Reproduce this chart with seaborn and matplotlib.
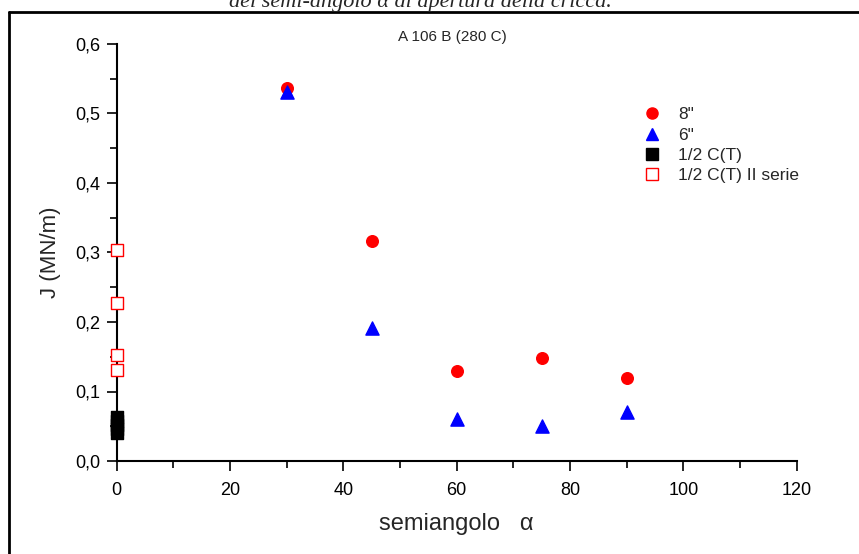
import numpy as np
import pandas as pd
import seaborn as sns
import matplotlib
matplotlib.use("Agg")
import matplotlib.pyplot as plt
from matplotlib.lines import Line2D
from matplotlib.ticker import MultipleLocator, FuncFormatter

# ---- data ----
angle_8 = [30, 45, 60, 75, 90]
J_8 = [0.537, 0.316, 0.130, 0.148, 0.119]
angle_6 = [30, 45, 60, 75, 90]
J_6 = [0.531, 0.191, 0.060, 0.051, 0.071]
angle_ct = [0, 0, 0, 0, 0]
J_ct = [0.040, 0.046, 0.052, 0.058, 0.063]
angle_ct2 = [0, 0, 0, 0]
J_ct2 = [0.304, 0.228, 0.153, 0.131]
series_names = ['8"', '6"', '1/2 C(T)', '1/2 C(T) II serie']

df = pd.concat([
    pd.DataFrame({"x": angle_8, "J": J_8, "s": series_names[0]}),
    pd.DataFrame({"x": angle_6, "J": J_6, "s": series_names[1]}),
    pd.DataFrame({"x": angle_ct, "J": J_ct, "s": series_names[2]}),
    pd.DataFrame({"x": angle_ct2, "J": J_ct2, "s": series_names[3]}),
], ignore_index=True)

sns.set_theme(style="white")
plt.rcParams['font.family'] = ['Liberation Sans', 'DejaVu Sans']

fig = plt.figure(figsize=(8.59, 5.54), dpi=100)
ax = fig.add_axes([116.7/859, 1-461/554, (796.7-116.7)/859, (461-44)/554])

styles = {
    series_names[0]: dict(marker='o', color='#ff0000', edgecolor='#ff0000', s=70),
    series_names[1]: dict(marker='^', color='#0000ff', edgecolor='#0000ff', s=90),
    series_names[2]: dict(marker='s', color='black', edgecolor='black', s=70),
    series_names[3]: dict(marker='s', color='white', edgecolor='#ff0000', s=70),
}
for name in series_names:
    sub = df[df["s"] == name]
    st = styles[name]
    sns.scatterplot(data=sub, x="x", y="J", ax=ax, marker=st['marker'],
                    color=st['color'], edgecolor=st['edgecolor'], s=st['s'],
                    linewidth=1.0, zorder=3, clip_on=False, legend=False)

ax.set_xlim(0, 120)
ax.set_ylim(0, 0.6)
ax.xaxis.set_major_locator(MultipleLocator(20))
ax.xaxis.set_minor_locator(MultipleLocator(10))
ax.yaxis.set_major_locator(MultipleLocator(0.1))
ax.yaxis.set_minor_locator(MultipleLocator(0.05))
ax.yaxis.set_major_formatter(FuncFormatter(lambda v, p: f"{v:.1f}".replace('.', ',')))
ax.tick_params(axis='both', which='major', direction='out', length=7, width=1.2,
               labelsize=13, color='black', labelcolor='black', bottom=True, left=True)
ax.tick_params(axis='x', which='major', pad=8)
ax.tick_params(axis='y', which='major', pad=5)
ax.tick_params(axis='both', which='minor', direction='out', length=5, width=1.2,
               color='black', bottom=True, left=True)
for sp in ['top', 'right']:
    ax.spines[sp].set_visible(False)
for sp in ['left', 'bottom']:
    ax.spines[sp].set_color('black')
    ax.spines[sp].set_linewidth(1.5)

ax.set_xlabel("semiangolo   α", fontsize=17, labelpad=10)
ax.set_ylabel("J (MN/m)", fontsize=16, labelpad=10)
ax.text((452-116.7)/680, 1-(37-44)/417, "A 106 B (280 C)", transform=ax.transAxes,
        ha='center', va='center', fontsize=11)

handles = []
for name in series_names:
    st = styles[name]
    handles.append(Line2D([], [], linestyle='none', marker=st['marker'],
                          markerfacecolor=st['color'], markeredgecolor=st['edgecolor'],
                          markersize=8 if st['marker'] != '^' else 9, label=name))
ax.legend(handles=handles, loc='upper left', bbox_to_anchor=(0.752, 0.865),
          frameon=False, fontsize=12.5, handletextpad=0.5, labelspacing=0.29,
          borderaxespad=0)

# page border and cut-off caption
fig.add_artist(Line2D([9/859, 9/859], [0, 1-12/554], transform=fig.transFigure,
                      color='black', linewidth=2))
fig.add_artist(Line2D([9/859, 1], [1-12/554, 1-12/554], transform=fig.transFigure,
                      color='black', linewidth=2))
fig.text(0.49, 1-3/554, "del semi-angolo α di apertura della cricca.",
         ha='center', va='center', fontsize=16, style='italic',
         family=['Liberation Serif', 'DejaVu Serif'])

fig.savefig("out.png", dpi=100)
